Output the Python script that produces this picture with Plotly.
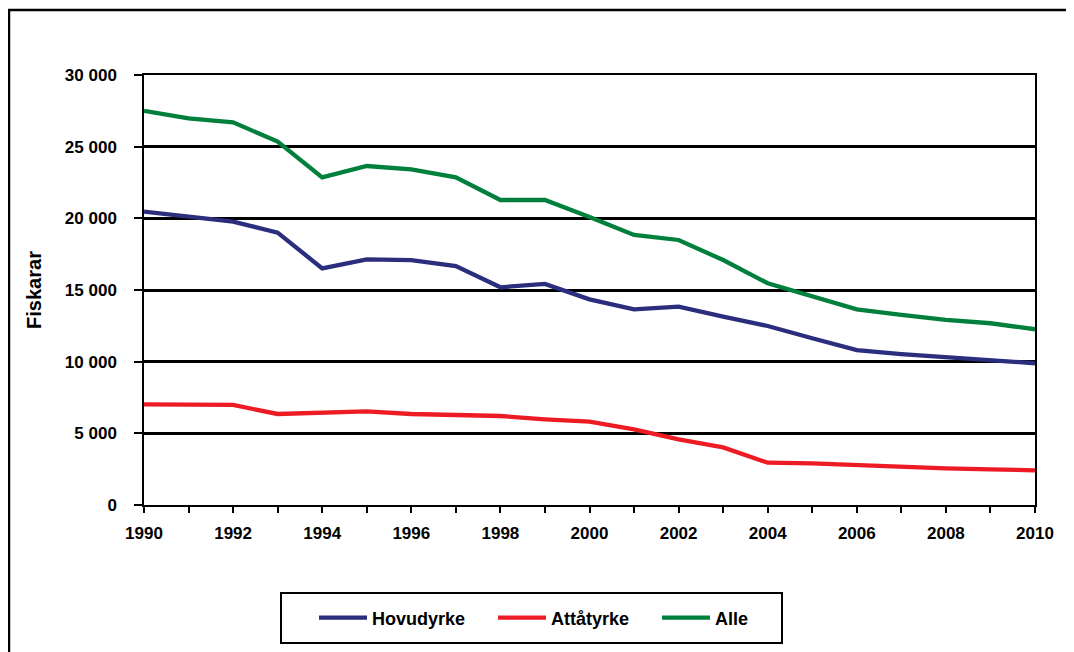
import plotly.graph_objects as go

years = list(range(1990, 2011))
hovudyrke = [20470, 20120, 19770, 19000, 16510, 17140, 17090, 16670, 15190, 15420,
             14350, 13650, 13840, 13140, 12490, 11630, 10810, 10530, 10300, 10120, 9890]
attatyrke = [7020, 6980, 6980, 6350, 6440, 6530, 6350, 6280, 6210, 5980,
             5810, 5280, 4580, 4020, 2950, 2910, 2790, 2630, 2560, 2490, 2420]
alle = [27500, 26980, 26700, 25350, 22860, 23650, 23420, 22860, 21280, 21280,
        20100, 18840, 18490, 17090, 15470, 14530, 13650, 13260, 12910, 12680, 12260]

series_names = ["Hovudyrke", "Attåtyrke", "Alle"]
series_colors = ["#2B2D7D", "#ED1C24", "#00803C"]
series_values = [hovudyrke, attatyrke, alle]

x_tick_text = [str(y) if y % 2 == 0 else "" for y in years]
y_ticks = [0, 5000, 10000, 15000, 20000, 25000, 30000]

FONT = "Liberation Sans, Arial, sans-serif"

# page body has an 8px margin: compensate so the figure lands at window coords
OFF = 8
W, H = 1074 - OFF, 652 - OFF
L, R, T, B = 144 - OFF, 39, 75 - OFF, 147
pw, ph = W - L - R, H - T - B


def px_x(p):
    return (p - OFF - L) / pw


def px_y(p):
    return (H - B - (p - OFF)) / ph


legend_ids = ["legend", "legend2", "legend3"]
legend_left = [314, 493, 657]

fig = go.Figure()
for name, color, vals, lid in zip(series_names, series_colors, series_values, legend_ids):
    fig.add_trace(go.Scatter(x=years, y=vals, name=name, mode="lines", legend=lid,
                             line=dict(color=color, width=4.3)))

legend_common = dict(orientation="h", yanchor="middle", y=px_y(618), xanchor="left",
                     font=dict(family=FONT, size=18, color="black", weight="bold"),
                     bgcolor="rgba(0,0,0,0)", borderwidth=0, itemwidth=48)

layout_legends = {}
for lid, lx in zip(legend_ids, legend_left):
    layout_legends[lid] = dict(legend_common, x=px_x(lx))

fig.update_layout(
    width=W, height=H, autosize=False,
    margin=dict(l=L, r=R, t=T, b=B, pad=0),
    paper_bgcolor="white", plot_bgcolor="white",
    separators=", ",
    font=dict(family=FONT, size=17, color="black"),
    showlegend=True,
    xaxis=dict(range=[1990, 2010], tickvals=years, ticktext=x_tick_text,
               ticks="outside", ticklen=6, tickwidth=1.5, tickcolor="black",
               showline=True, linecolor="black", linewidth=1.5, mirror=True,
               showgrid=False, zeroline=False,
               tickfont=dict(family=FONT, size=17, color="black", weight="bold"),
               ticklabelstandoff=6),
    yaxis=dict(range=[0, 30000], tickvals=y_ticks, tickformat=",d",
               ticks="outside", ticklen=8, tickwidth=1.5, tickcolor="black",
               showline=True, linecolor="black", linewidth=1.5, mirror=True,
               showgrid=True, gridcolor="black", gridwidth=2.5, zeroline=False,
               tickfont=dict(family=FONT, size=17, color="black", weight="bold"),
               ticklabelstandoff=14,
               title=dict(text="Fiskarar", standoff=18,
                          font=dict(family=FONT, size=20, color="black", weight="bold"))),
    **layout_legends,
)

# outer chart frame
fig.add_shape(type="rect", xref="paper", yref="paper",
              x0=px_x(9), x1=px_x(1095), y0=px_y(680), y1=px_y(10),
              line=dict(color="black", width=2.5), fillcolor="rgba(0,0,0,0)", layer="below")
# legend frame
fig.add_shape(type="rect", xref="paper", yref="paper",
              x0=px_x(281), x1=px_x(782), y0=px_y(643), y1=px_y(593),
              line=dict(color="black", width=2), fillcolor="rgba(0,0,0,0)")

fig.write_html("out.html")
